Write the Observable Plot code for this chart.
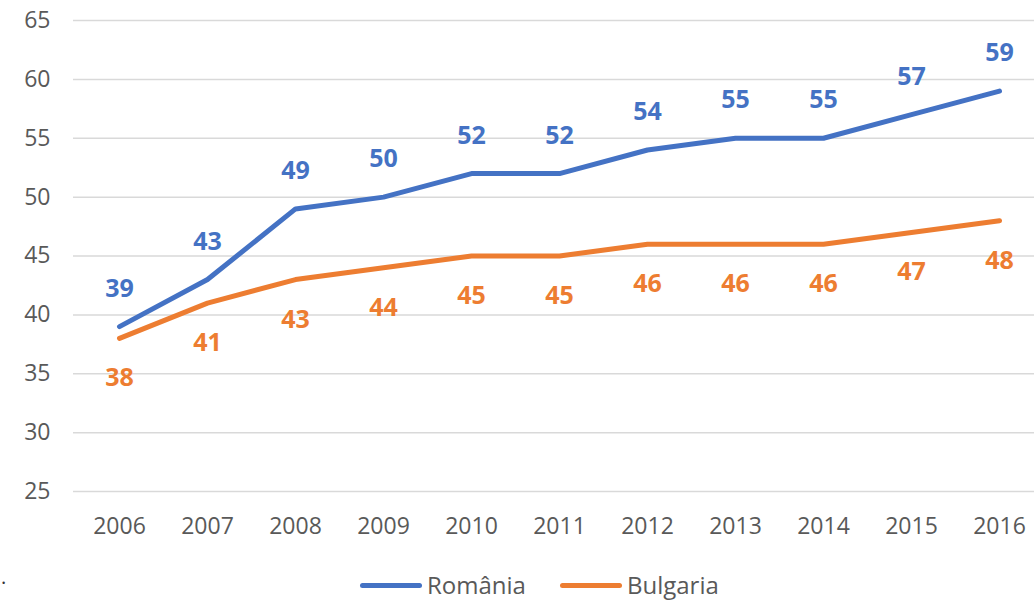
<!DOCTYPE html>
<html>
<head>
<meta charset="utf-8">
<script src="https://cdn.jsdelivr.net/npm/d3@7"></script>
<script src="https://cdn.jsdelivr.net/npm/@observablehq/plot@0.6"></script>
<style>
  html, body { margin: 0; padding: 0; background: #fff; }
  #wrap { position: relative; width: 1034px; height: 600px; overflow: hidden; font-family: "Open Sans", sans-serif; }
  #legend { position: absolute; left: 360px; top: 570px; height: 30px; display: flex; align-items: center; font-size: 24px; color: #595959; line-height: 30px; }
  .sw { display: inline-block; width: 62px; height: 5px; border-radius: 3px; margin-right: 5px; }
  .item { display: flex; align-items: center; margin-right: 34px; }
  #dot { position: absolute; left: 1px; top: 565px; font-size: 20px; line-height: 24px; color: #333; }
</style>
</head>
<body>
<div id="wrap">
  <div id="chart"></div>
  <div id="legend"></div>
  <div id="dot">.</div>
</div>
<script>
const years = [2006, 2007, 2008, 2009, 2010, 2011, 2012, 2013, 2014, 2015, 2016];
const romania = [39, 43, 49, 50, 52, 52, 54, 55, 55, 57, 59];
const bulgaria = [38, 41, 43, 44, 45, 45, 46, 46, 46, 47, 48];
const yTicks = [25, 30, 35, 40, 45, 50, 55, 60, 65];
const seriesNames = ["România", "Bulgaria"];
const colors = ["#4472C4", "#ED7D31"];

const roData = years.map((y, i) => ({year: y, value: romania[i]}));
const bgData = years.map((y, i) => ({year: y, value: bulgaria[i]}));

const chart = Plot.plot({
  width: 1034,
  height: 555,
  marginLeft: 73,
  marginRight: 0,
  marginTop: 20,
  marginBottom: 64,
  style: {fontFamily: "'Open Sans', sans-serif", background: "#fff"},
  x: {type: "point", domain: years, range: [118, 1000], padding: 0, label: null},
  y: {domain: [25, 65], label: null},
  marks: [
    Plot.ruleY(yTicks, {stroke: "#d9d9d9", strokeWidth: 1.5}),
    Plot.axisY({ticks: yTicks, tickSize: 0, tickPadding: 23, fontSize: 23, fill: "#595959", label: null}),
    Plot.axisX({tickSize: 0, tickPadding: 26, fontSize: 23, fill: "#595959", label: null, tickFormat: d => String(d)}),
    Plot.line(roData, {x: "year", y: "value", stroke: colors[0], strokeWidth: 5, strokeLinecap: "round", strokeLinejoin: "round"}),
    Plot.line(bgData, {x: "year", y: "value", stroke: colors[1], strokeWidth: 5, strokeLinecap: "round", strokeLinejoin: "round"}),
    Plot.text(roData, {x: "year", y: "value", text: d => String(d.value), dy: -38, fill: colors[0], fontWeight: "bold", fontSize: 25}),
    Plot.text(bgData, {x: "year", y: "value", text: d => String(d.value), dy: 40, fill: colors[1], fontWeight: "bold", fontSize: 25})
  ]
});
document.getElementById("chart").appendChild(chart);

const legend = document.getElementById("legend");
seriesNames.forEach((name, i) => {
  const item = document.createElement("div");
  item.className = "item";
  const sw = document.createElement("span");
  sw.className = "sw";
  sw.style.background = colors[i];
  const label = document.createElement("span");
  label.textContent = name;
  item.appendChild(sw);
  item.appendChild(label);
  legend.appendChild(item);
});
</script>
</body>
</html>
